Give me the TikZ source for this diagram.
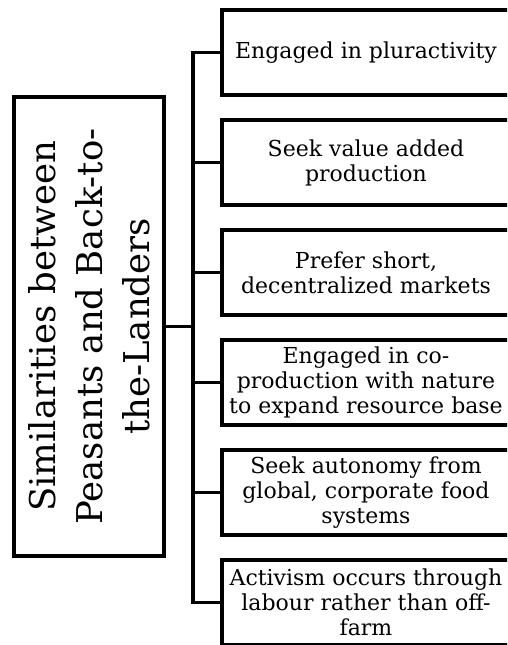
\documentclass[tikz,border=0pt]{standalone}
\usepackage{fontspec}
\setmainfont{DejaVu Serif}
\begin{document}
\begin{tikzpicture}[x=1pt,y=-1pt,
  itembox/.style={draw, line width=3.75pt, minimum width=288pt, minimum height=85pt, inner sep=0pt, align=center, font=\fontsize{22}{25}\selectfont},
  mainbox/.style={draw, line width=3.75pt, minimum width=459pt, minimum height=150pt, inner sep=0pt, align=center, rotate=90, font=\fontsize{35.5}{47}\selectfont},
  link/.style={line width=3.75pt}]
\useasboundingbox (0,0) rectangle (507,645);
\clip (0,0) rectangle (507,645);
\node[mainbox] (m) at (89,326.5) {Similarities between\\Peasants and Back-to-\\the-Landers};
\node[itembox] (b1) at (366,52.5) {Engaged in pluractivity};
\node[itembox] (b2) at (366,162.5) {Seek value added\\production};
\node[itembox] (b3) at (366,272.5) {Prefer short,\\decentralized markets};
\node[itembox] (b4) at (366,382.5) {Engaged in co-\\production with nature\\to expand resource base};
\node[itembox] (b5) at (366,492.5) {Seek autonomy from\\global, corporate food\\systems};
\node[itembox] (b6) at (366,602.5) {Activism occurs through\\labour rather than off-\\farm};
\coordinate (tr) at (193,0);
\draw[link] (b1.west) -- (b1.west -| tr) -- (b6.west -| tr) -- (b6.west);
\draw[link] (b2.west) -- (b2.west -| tr);
\draw[link] (b3.west) -- (b3.west -| tr);
\draw[link] (b4.west) -- (b4.west -| tr);
\draw[link] (b5.west) -- (b5.west -| tr);
\draw[link] (m.south) -- (m.south -| tr);
\end{tikzpicture}
\end{document}
